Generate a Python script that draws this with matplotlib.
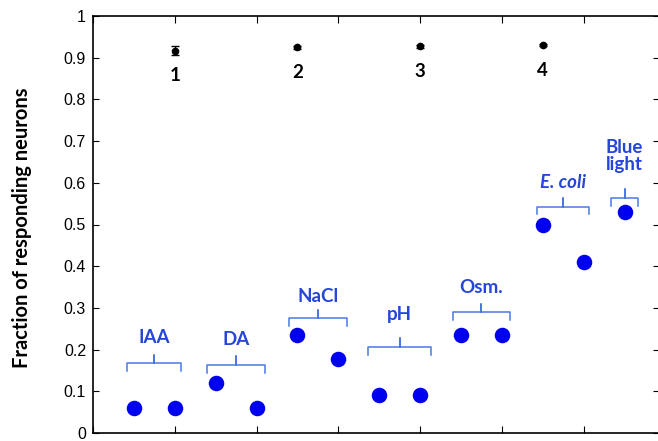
import matplotlib
matplotlib.use("Agg")
import matplotlib.pyplot as plt
import numpy as np

# Data
stimuli = ["IAA", "DA", "NaCl", "pH", "Osm.", "E. coli", "Blue\nlight"]
blue_x = [1, 2, 3, 4, 5, 6, 7, 8, 9, 10, 11, 12, 13]
blue_y = [0.06, 0.06, 0.12, 0.06, 0.235, 0.178, 0.09, 0.09, 0.235, 0.235, 0.50, 0.41, 0.53]
group_centers = [1.5, 3.5, 5.5, 7.5, 9.5, 11.5, 13.0]
group_half = [0.66, 0.70, 0.71, 0.77, 0.70, 0.64, 0.34]
brace_y = [0.167, 0.163, 0.275, 0.206, 0.289, 0.543, 0.564]
label_y = [0.230, 0.225, 0.327, 0.285, 0.350, 0.600, 0.665]

black_x = [2, 5, 8, 11]
black_y = [0.917, 0.925, 0.927, 0.930]
black_err = [0.011, 0.004, 0.004, 0.003]
black_labels = ["1", "2", "3", "4"]

fig = plt.figure(figsize=(6.58, 4.41), dpi=100)
ax = fig.add_axes([93/658, (441-433)/441, (658-93)/658 + 0.002, (433-16)/441])

pt_color = "#0000f0"
lab_color = "#2546d8"
brace_color = "#4a78e0"

ax.scatter(blue_x, blue_y, s=125, color=pt_color, zorder=3, linewidths=0)
ax.errorbar(black_x, black_y, yerr=black_err, fmt="o", color="black", ms=4.5,
            capsize=3, elinewidth=1, capthick=1, zorder=3)
for x, y, t in zip(black_x, black_y, black_labels):
    ax.text(x, y - 0.06, t, ha="center", va="center", fontsize=13.5,
            fontweight="bold", family="Lato", color="black")

for c, h, by, ly, name in zip(group_centers, group_half, brace_y, label_y, stimuli):
    d = 0.019
    tip = 0.021
    xs = [c - h, c - h, c, c, c, c + h, c + h]
    ys = [by - d, by, by, by + tip, by, by, by - d]
    ax.plot(xs, ys, color=brace_color, lw=1.1, solid_joinstyle="round")
    style = "italic" if "coli" in name else "normal"
    ax.text(c, ly, name, ha="center", va="center", fontsize=13.5, fontweight="bold",
            color=lab_color, family="Lato", style=style, linespacing=1.0)

ax.set_xlim(0, 13.85)
ax.set_ylim(0, 1)
ax.set_yticks(np.arange(0, 1.01, 0.1))
ax.set_yticklabels(["0", "0.1", "0.2", "0.3", "0.4", "0.5", "0.6", "0.7", "0.8", "0.9", "1"])
ax.set_xticks(np.arange(0, 14, 2))
ax.set_xticklabels([])
ax.tick_params(axis="both", direction="in", length=4, width=0.8, top=True, right=True,
               labelsize=11.5, pad=5)
ax.tick_params(axis="x", length=5)
ax.spines["right"].set_visible(False)
for s in ["left", "top", "bottom"]:
    ax.spines[s].set_linewidth(1.2)
for lab in ax.get_yticklabels():
    lab.set_family("Liberation Sans")

fig.text(22/658, 1 - 228/441, "Fraction of responding neurons", rotation=90,
         ha="center", va="center", fontsize=14.5, fontweight="bold", family="Lato")

fig.savefig("out.png", dpi=100)
